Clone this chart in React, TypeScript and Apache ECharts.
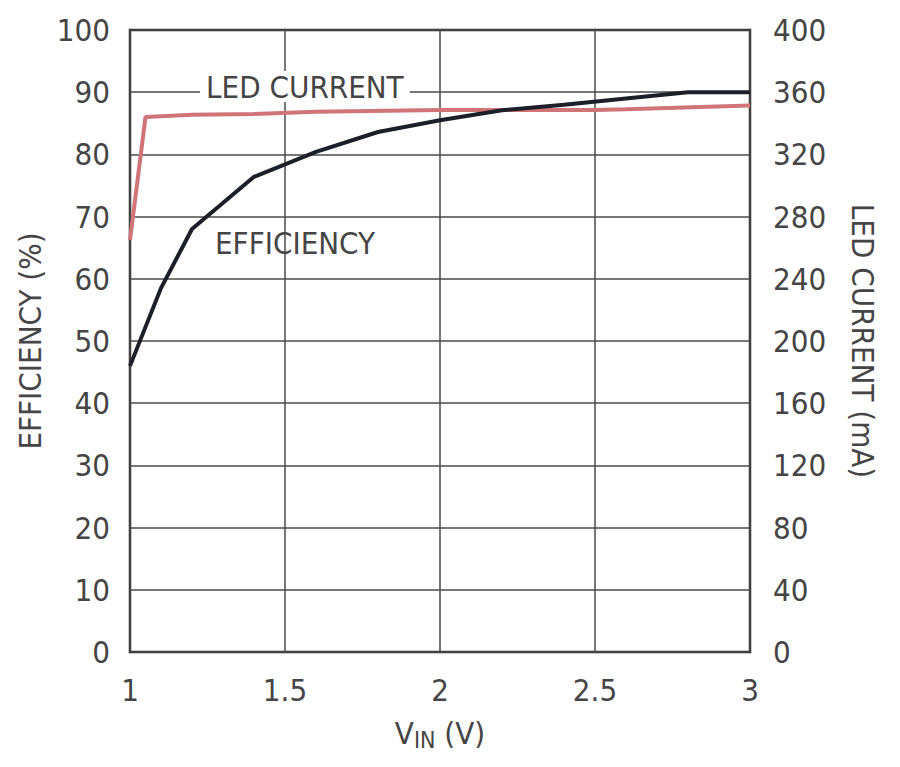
import React, { useEffect, useRef } from "react";
import * as echarts from "echarts";

const xTicks = [1, 1.5, 2, 2.5, 3];
const efficiencyX = [1.0, 1.1, 1.2, 1.4, 1.6, 1.8, 2.0, 2.2, 2.4, 2.6, 2.8, 3.0];
const efficiencyY = [46, 58.5, 68, 76.4, 80.4, 83.6, 85.5, 87.1, 88, 89, 90, 90];
const currentX = [1.0, 1.05, 1.2, 1.4, 1.6, 2.0, 2.5, 2.6, 3.0];
const currentY = [265, 344, 345.5, 346, 347.5, 348.5, 348.5, 349, 351.5];

const FONT = "'Liberation Sans Narrow', 'DejaVu Sans Condensed', 'Liberation Sans', sans-serif";
const TXT = "#454545";
const FS = 31;

export default function App() {
  const ref = useRef<HTMLDivElement>(null);
  useEffect(() => {
    if (!ref.current) return;
    const chart = echarts.init(ref.current, undefined, { renderer: "svg" });
    const labelStyle = { color: TXT, fontFamily: FONT, fontSize: FS };
    chart.setOption({
      animation: false,
      backgroundColor: "#ffffff",
      textStyle: { fontFamily: FONT },
      grid: {
        left: 122,
        right: 142,
        top: 22,
        bottom: 107,
        outerBoundsMode: "none",
        containLabel: false,
        show: true,
        borderColor: "#2a2a2a",
        borderWidth: 2.5,
        backgroundColor: "transparent",
      },
      xAxis: {
        type: "value",
        min: 1,
        max: 3,
        interval: 0.5,
        axisLine: { show: false },
        axisTick: { show: false },
        splitLine: { show: true, lineStyle: { color: "#4a4a4a", width: 1.5 } },
        axisLabel: {
          ...labelStyle,
          margin: 22,
          formatter: (v: number) => (xTicks.includes(v) ? String(v) : ""),
        },
        name: "{a|V}{b|IN}{a| (V)}",
        nameLocation: "middle",
        nameGap: 62,
        nameTextStyle: {
          rich: {
            a: { color: TXT, fontFamily: FONT, fontSize: FS },
            b: { color: TXT, fontFamily: FONT, fontSize: 23, verticalAlign: "bottom", padding: [14, 0, 0, 0] },
          },
        },
      },
      yAxis: [
        {
          type: "value",
          min: 0,
          max: 100,
          interval: 10,
          position: "left",
          axisLine: { show: false },
          axisTick: { show: false },
          splitLine: { show: true, lineStyle: { color: "#4a4a4a", width: 1.5 } },
          axisLabel: { ...labelStyle, margin: 20 },
          name: "EFFICIENCY (%)",
          nameLocation: "middle",
          nameGap: 80,
          nameRotate: 90,
          nameTextStyle: { ...labelStyle },
        },
        {
          type: "value",
          min: 0,
          max: 400,
          interval: 40,
          position: "right",
          axisLine: { show: false },
          axisTick: { show: false },
          splitLine: { show: false },
          axisLabel: { ...labelStyle, margin: 23 },
          name: "LED CURRENT (mA)",
          nameLocation: "middle",
          nameGap: 97,
          nameRotate: -90,
          nameTextStyle: { ...labelStyle },
        },
      ],
      series: [
        {
          name: "LED CURRENT",
          type: "line",
          yAxisIndex: 1,
          data: currentX.map((x, i) => [x, currentY[i]]),
          showSymbol: false,
          lineStyle: { color: "#d07478", width: 4 },
          z: 2,
        },
        {
          name: "EFFICIENCY",
          type: "line",
          yAxisIndex: 0,
          data: efficiencyX.map((x, i) => [x, efficiencyY[i]]),
          showSymbol: false,
          lineStyle: { color: "#1c1f2a", width: 4 },
          z: 3,
        },
      ],
      graphic: [
        {
          type: "text",
          left: 192,
          top: 63,
          z: 10,
          style: {
            text: "LED CURRENT",
            fill: TXT,
            font: `${FS}px ${FONT}`,
            backgroundColor: "#ffffff",
            padding: [0, 6],
          },
        },
        {
          type: "text",
          left: 207,
          top: 219,
          z: 10,
          style: {
            text: "EFFICIENCY",
            fill: TXT,
            font: `${FS}px ${FONT}`,
          },
        },
      ],
    });
    return () => chart.dispose();
  }, []);
  return <div ref={ref} style={{ width: 884, height: 751 }} />;
}
